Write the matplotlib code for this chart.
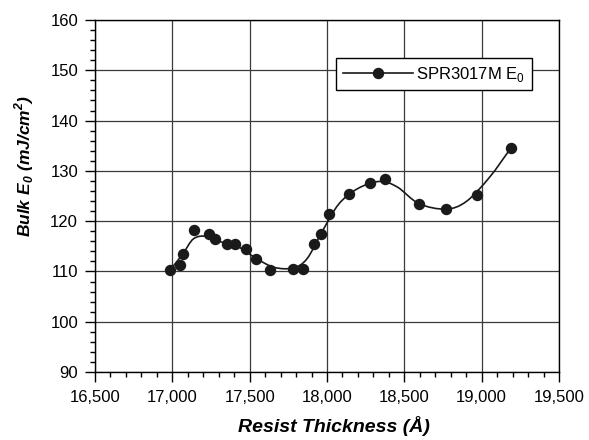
import matplotlib
matplotlib.use("Agg")
import matplotlib.pyplot as plt
import numpy as np
from matplotlib.path import Path
from matplotlib.patches import PathPatch
from matplotlib.ticker import FuncFormatter, MultipleLocator

plt.rcParams['font.family'] = ['Liberation Sans', 'DejaVu Sans']

# resist thickness (A) and bulk E0 (mJ/cm^2)
thickness = [16985, 17050, 17068, 17139, 17236, 17277, 17353, 17407, 17476,
             17541, 17629, 17780, 17845, 17918, 17962, 18016, 18139, 18276,
             18378, 18594, 18767, 18972, 19188]
bulk_e0 = [110.3, 111.3, 113.4, 118.3, 117.5, 116.4, 115.5, 115.5, 114.4,
           112.5, 110.3, 110.5, 110.5, 115.5, 117.5, 121.5, 125.5, 127.5,
           128.3, 123.4, 122.5, 125.3, 134.5]
series_name = r"SPR3017M E$_\mathregular{0}$"

# smoothed trend line knots
trend_x = [16986, 17068, 17137, 17220, 17300, 17420, 17547, 17660, 17780,
           17870, 17968, 18076, 18200, 18340, 18454, 18594, 18767, 18900,
           19050, 19188]
trend_y = [110.3, 113.5, 116.5, 117.0, 116.0, 115.0, 112.5, 110.8, 110.7,
           112.5, 117.9, 123.4, 126.5, 127.9, 126.8, 123.5, 122.4, 123.9,
           128.7, 134.5]


def smooth_path(xs, ys):
    # Catmull-Rom knots turned into cubic bezier segments
    p = np.column_stack([xs, ys]).astype(float)
    p = np.vstack([2 * p[0] - p[1], p, 2 * p[-1] - p[-2]])
    verts = [tuple(p[1])]
    codes = [Path.MOVETO]
    for i in range(1, len(p) - 2):
        c1 = p[i] + (p[i + 1] - p[i - 1]) / 6
        c2 = p[i + 1] - (p[i + 2] - p[i]) / 6
        verts += [tuple(c1), tuple(c2), tuple(p[i + 1])]
        codes += [Path.CURVE4] * 3
    return Path(verts, codes)


fig = plt.figure(figsize=(5.89, 4.40), dpi=100)
ax = fig.add_axes([0.1613, 0.1545, 0.7878, 0.8])

ax.add_patch(PathPatch(smooth_path(trend_x, trend_y), facecolor="none",
                       edgecolor="#1a1a1a", lw=1.2, zorder=3))
ax.plot(thickness, bulk_e0, "o", color="#1a1a1a", ms=7.2, zorder=4)
# legend handle: line with a marker
h, = ax.plot([], [], "-o", color="#1a1a1a", lw=1.2, ms=7.2)

ax.set_xlim(16500, 19500)
ax.set_ylim(90, 160)
ax.xaxis.set_major_locator(MultipleLocator(500))
ax.xaxis.set_minor_locator(MultipleLocator(100))
ax.yaxis.set_major_locator(MultipleLocator(10))
ax.yaxis.set_minor_locator(MultipleLocator(2))
ax.xaxis.set_major_formatter(FuncFormatter(lambda v, p: f"{int(v):,}"))
ax.tick_params(which="major", length=7.2, width=1, labelsize=12, colors="black")
ax.tick_params(which="minor", length=3.8, width=1)
ax.tick_params(axis="x", which="major", pad=6)
ax.tick_params(axis="y", which="major", pad=5)
ax.grid(True, which="major", color="#3a3a3a", lw=0.9)
ax.set_axisbelow(True)
for s in ax.spines.values():
    s.set_linewidth(1.0)
    s.set_color("black")

ax.set_xlabel(r"Resist Thickness (Å)", fontsize=14, fontweight="bold",
              style="italic")
ax.xaxis.set_label_coords(0.514, -0.126)
ax.set_ylabel(r"Bulk E$_\mathregular{0}$ (mJ/cm$^\mathregular{2}$)", fontsize=12.5,
              fontweight="bold", style="italic")
ax.yaxis.set_label_coords(-0.127, 0.585)

leg = ax.legend([h], [series_name], loc="upper right",
                bbox_to_anchor=(0.942, 0.892), borderaxespad=0, fontsize=12,
                frameon=True, fancybox=False, framealpha=1, edgecolor="black",
                handlelength=4.2, borderpad=0.4, handletextpad=0.2)
leg.get_frame().set_linewidth(1.0)

fig.savefig("out.png", dpi=100)
